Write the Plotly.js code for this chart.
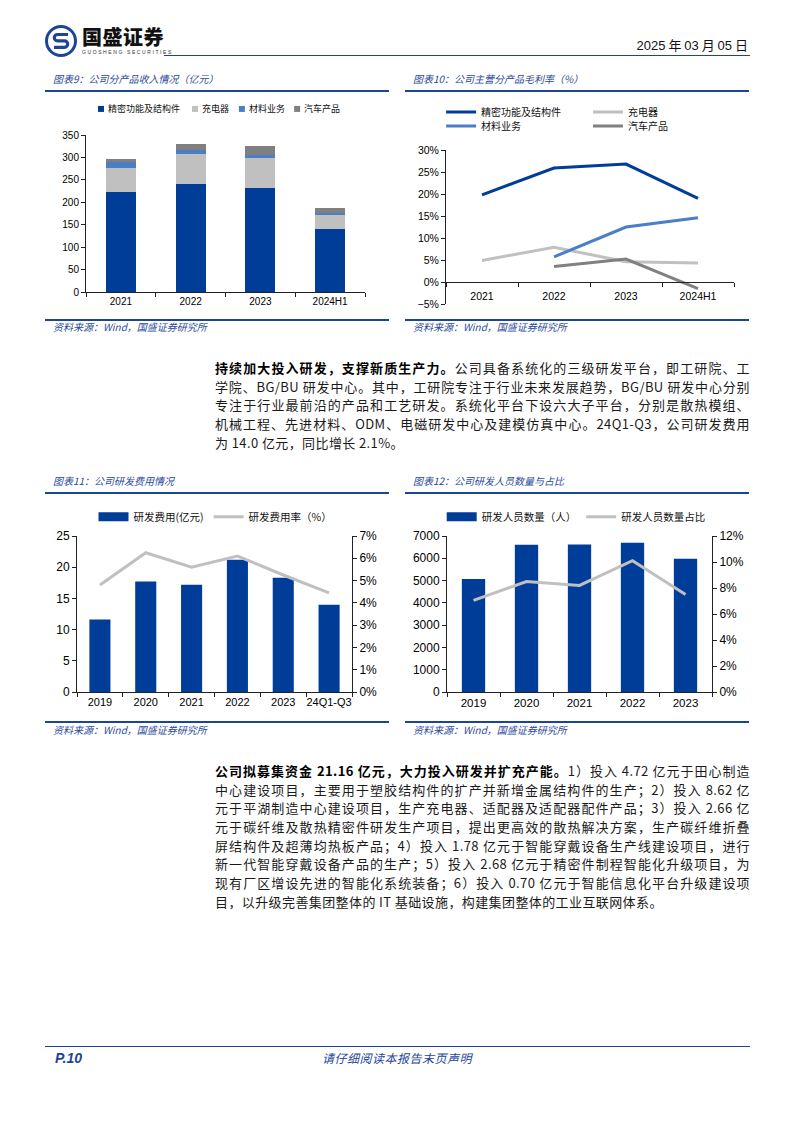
<!DOCTYPE html>
<html>
<head>
<meta charset="utf-8">
<script src="https://cdn.plot.ly/plotly-3.0.1.min.js"></script>
<style>
  html,body{margin:0;padding:0;background:#fff;}
  body{width:794px;height:1123px;position:relative;overflow:hidden;font-family:"Noto Sans CJK SC","Liberation Sans",sans-serif;}
  .abs{position:absolute;}
  .rule{position:absolute;background:#1d4596;}
  .ctitle{position:absolute;font-size:10px;font-style:italic;color:#2a4a99;white-space:nowrap;line-height:12px;}
  .src{position:absolute;font-size:10px;font-style:italic;color:#2a4a99;white-space:nowrap;line-height:12px;}
  .para{position:absolute;left:215px;width:535px;font-size:13px;color:#1a1a1a;}
  .para div{height:18.7px;line-height:18.7px;white-space:nowrap;text-align:justify;text-align-last:justify;letter-spacing:0.4px;}
  .para div.last{text-align-last:left;}
  .para b{font-weight:700;color:#000;}
  .chart{position:absolute;}
</style>
</head>
<body>
<!-- header -->
<svg class="abs" style="left:44px;top:24px;" width="34" height="34" viewBox="0 0 34 34">
  <circle cx="17" cy="17" r="14.5" fill="none" stroke="#1d4596" stroke-width="3"/>
  <path d="M24,10.5 H13.5 a3.2,3.2 0 0 0 0,6.4 H20.5 a3.2,3.2 0 0 1 0,6.4 H10" fill="none" stroke="#1d4596" stroke-width="3.2"/>
</svg>
<div class="abs" style="left:82px;top:25px;font-size:20px;font-weight:900;letter-spacing:0.5px;color:#111;line-height:24px;">国盛证券</div>
<div class="abs" style="left:82px;top:49px;font-size:5px;letter-spacing:1.6px;color:#333;line-height:6px;font-family:'Liberation Sans';">GUOSHENG SECURITIES</div>
<div class="rule" style="left:164px;top:55px;width:586px;height:1px;"></div>
<div class="abs" style="right:46px;top:37px;font-size:13px;color:#111;line-height:16px;white-space:nowrap;"><span style="font-family:'Liberation Sans'">2025</span> 年 <span style="font-family:'Liberation Sans'">03</span> 月 <span style="font-family:'Liberation Sans'">05</span> 日</div>

<!-- chart 9/10 frames -->
<div class="ctitle" style="left:53px;top:73px;">图表9：公司分产品收入情况（亿元）</div>
<div class="ctitle" style="left:413px;top:73px;">图表10：公司主营分产品毛利率（%）</div>
<div class="rule" style="left:45px;top:90px;width:344px;height:2px;"></div>
<div class="rule" style="left:405px;top:90px;width:344px;height:2px;"></div>
<div class="rule" style="left:45px;top:319px;width:344px;height:2px;"></div>
<div class="rule" style="left:405px;top:319px;width:344px;height:2px;"></div>
<div class="src" style="left:53px;top:321px;">资料来源：Wind，国盛证券研究所</div>
<div class="src" style="left:413px;top:321px;">资料来源：Wind，国盛证券研究所</div>

<div id="c9" class="chart" style="left:40px;top:95px;width:350px;height:220px;"></div>
<div id="c10" class="chart" style="left:400px;top:95px;width:350px;height:220px;"></div>

<!-- paragraph 1 -->
<div class="para" style="top:359px;">
  <div><b>持续加大投入研发，支撑新质生产力。</b>公司具备系统化的三级研发平台，即工研院、工</div>
  <div>学院、BG/BU 研发中心。其中，工研院专注于行业未来发展趋势，BG/BU 研发中心分别</div>
  <div>专注于行业最前沿的产品和工艺研发。系统化平台下设六大子平台，分别是散热模组、</div>
  <div>机械工程、先进材料、ODM、电磁研发中心及建模仿真中心。24Q1-Q3，公司研发费用</div>
  <div class="last">为 14.0 亿元，同比增长 2.1%。</div>
</div>

<!-- chart 11/12 frames -->
<div class="ctitle" style="left:53px;top:475px;">图表11：公司研发费用情况</div>
<div class="ctitle" style="left:413px;top:475px;">图表12：公司研发人员数量与占比</div>
<div class="rule" style="left:45px;top:492px;width:344px;height:2px;"></div>
<div class="rule" style="left:405px;top:492px;width:344px;height:2px;"></div>
<div class="rule" style="left:45px;top:721px;width:344px;height:2px;"></div>
<div class="rule" style="left:405px;top:721px;width:344px;height:2px;"></div>
<div class="src" style="left:53px;top:724px;">资料来源：Wind，国盛证券研究所</div>
<div class="src" style="left:413px;top:724px;">资料来源：Wind，国盛证券研究所</div>

<div id="c11" class="chart" style="left:40px;top:498px;width:350px;height:222px;"></div>
<div id="c12" class="chart" style="left:400px;top:498px;width:350px;height:222px;"></div>

<!-- paragraph 2 -->
<div class="para" style="top:762px;">
  <div><b>公司拟募集资金 21.16 亿元，大力投入研发并扩充产能。</b>1）投入 4.72 亿元于田心制造</div>
  <div>中心建设项目，主要用于塑胶结构件的扩产并新增金属结构件的生产；2）投入 8.62 亿</div>
  <div>元于平湖制造中心建设项目，生产充电器、适配器及适配器配件产品；3）投入 2.66 亿</div>
  <div>元于碳纤维及散热精密件研发生产项目，提出更高效的散热解决方案，生产碳纤维折叠</div>
  <div>屏结构件及超薄均热板产品；4）投入 1.78 亿元于智能穿戴设备生产线建设项目，进行</div>
  <div>新一代智能穿戴设备产品的生产；5）投入 2.68 亿元于精密件制程智能化升级项目，为</div>
  <div>现有厂区增设先进的智能化系统装备；6）投入 0.70 亿元于智能信息化平台升级建设项</div>
  <div class="last">目，以升级完善集团整体的 IT 基础设施，构建集团整体的工业互联网体系。</div>
</div>

<!-- footer -->
<div class="rule" style="left:45px;top:1046px;width:705px;height:1px;"></div>
<div class="abs" style="left:55px;top:1050px;font-size:14px;font-weight:700;font-style:italic;color:#1d4596;font-family:'Liberation Sans';line-height:16px;">P.10</div>
<div class="abs" style="left:0;width:794px;text-align:center;top:1051px;font-size:12px;font-style:italic;color:#1d4596;line-height:14px;letter-spacing:0.5px;">请仔细阅读本报告末页声明</div>

<script>
// ---------- data ----------
const years9 = ['2021', '2022', '2023', '2024H1'];
const series9 = ['精密功能及结构件', '充电器', '材料业务', '汽车产品'];
const precision9 = [222, 241, 232, 141];
const charger9 = [55, 66, 67, 31];
const material9 = [13, 9, 7, 4];
const auto9 = [7, 15, 19, 12];

const years10 = ['2021', '2022', '2023', '2024H1'];
const marginPrecision = [19.8, 25.9, 26.8, 19.0];
const marginCharger = [4.9, 7.9, 4.6, 4.3];
const marginMaterial = [null, 5.7, 12.5, 14.6];
const marginAuto = [null, 3.5, 5.2, -1.5];

const years11 = ['2019', '2020', '2021', '2022', '2023', '24Q1-Q3'];
const rdExpense = [11.6, 17.7, 17.2, 21.2, 18.3, 14.0];
const rdRate = [4.8, 6.25, 5.6, 6.1, 5.25, 4.45];

const years12 = ['2019', '2020', '2021', '2022', '2023'];
const rdStaff = [5070, 6610, 6620, 6700, 5980];
const rdStaffShare = [7.05, 8.5, 8.2, 10.1, 7.5];

// ---------- styles ----------
const BLUE = '#003d99', GREY = '#c0c0c0', LBLUE = '#4a7fc8', DGREY = '#808080';
const colors9 = [BLUE, GREY, LBLUE, DGREY];
const tickFont = (s) => ({family: 'Liberation Sans, Arial, sans-serif', size: s, color: '#000'});
const cjkFont = (s) => ({family: 'Noto Sans CJK SC, sans-serif', size: s, color: '#111'});
const cfg = {displayModeBar: false, staticPlot: true};
const axisBase = {showgrid: false, zeroline: false, showline: true, linecolor: '#222', linewidth: 1, ticks: 'outside', ticklen: 4, tickcolor: '#222', fixedrange: true};
const leg = (x, y, size, extra) => Object.assign({x: x, xanchor: 'left', y: y, yanchor: 'middle', font: cjkFont(size), bgcolor: 'rgba(0,0,0,0)', itemwidth: 30}, extra || {});

// ---------- chart 9 ----------
// compact key (squares + labels) placed above the plot, as in the reference
const key9x = [0.043, 0.38, 0.548, 0.746];   // paper-x of each key square (left edge)
const key9y = 1.166;
const key9Shapes = series9.map((s, i) => ({
  type: 'rect', xref: 'paper', yref: 'paper',
  x0: key9x[i], x1: key9x[i] + 6 / 279, y0: key9y - 3 / 157, y1: key9y + 3 / 157,
  fillcolor: colors9[i], line: {width: 0}
}));
const key9Ann = series9.map((s, i) => ({
  xref: 'paper', yref: 'paper', x: key9x[i] + 8 / 279, y: key9y, xanchor: 'left', yanchor: 'middle',
  text: s, showarrow: false, font: cjkFont(9)
}));
const vals9 = [precision9, charger9, material9, auto9];
Plotly.newPlot('c9', series9.map((s, i) => ({
  type: 'bar', name: s, x: years9, y: vals9[i], marker: {color: colors9[i]}
})), {
  barmode: 'stack', bargap: 0.57,
  width: 350, height: 220,
  margin: {l: 46, r: 25, t: 40, b: 23, autoexpand: false},
  paper_bgcolor: 'rgba(0,0,0,0)', plot_bgcolor: 'rgba(0,0,0,0)',
  showlegend: false,
  shapes: key9Shapes,
  annotations: key9Ann,
  xaxis: Object.assign({}, axisBase, {type: 'category', tickson: 'boundaries', tickfont: tickFont(10)}),
  yaxis: Object.assign({}, axisBase, {range: [0, 350], dtick: 50, tickfont: tickFont(10)})
}, cfg);

// ---------- chart 10 ----------
Plotly.newPlot('c10', [
  {type: 'scatter', mode: 'lines', name: '精密功能及结构件', x: years10, y: marginPrecision, line: {color: BLUE, width: 3}, legend: 'legend'},
  {type: 'scatter', mode: 'lines', name: '充电器', x: years10, y: marginCharger, line: {color: GREY, width: 3}, legend: 'legend2'},
  {type: 'scatter', mode: 'lines', name: '材料业务', x: years10, y: marginMaterial, line: {color: LBLUE, width: 3}, legend: 'legend3'},
  {type: 'scatter', mode: 'lines', name: '汽车产品', x: years10, y: marginAuto, line: {color: DGREY, width: 3}, legend: 'legend4'}
], {
  width: 350, height: 220,
  margin: {l: 46, r: 16, t: 55, b: 11, autoexpand: false},
  paper_bgcolor: 'rgba(0,0,0,0)', plot_bgcolor: 'rgba(0,0,0,0)',
  showlegend: true,
  legend: leg(-0.017, 1.247, 10),
  legend2: leg(0.493, 1.247, 10),
  legend3: leg(-0.017, 1.156, 10),
  legend4: leg(0.493, 1.156, 10),
  xaxis: Object.assign({}, axisBase, {type: 'category', range: [-0.5, 3.5], anchor: 'free', position: 5 / 35, tickson: 'boundaries', ticklabelstandoff: 4, tickfont: tickFont(10.5)}),
  yaxis: Object.assign({}, axisBase, {range: [-5, 30], dtick: 5, ticksuffix: '%', tickfont: tickFont(10.5)})
}, cfg);

// ---------- chart 11 ----------
Plotly.newPlot('c11', [
  {type: 'bar', name: '研发费用(亿元)', x: years11, y: rdExpense, marker: {color: BLUE}, showlegend: false},
  {type: 'scatter', mode: 'lines', name: '研发费用(亿元)', x: [null], y: [null], line: {color: BLUE, width: 9}, showlegend: true},
  {type: 'scatter', mode: 'lines', name: '研发费用率（%）', x: years11, y: rdRate, yaxis: 'y2', line: {color: GREY, width: 3}}
], {
  bargap: 0.54,
  width: 350, height: 222,
  margin: {l: 37, r: 38, t: 38, b: 28, autoexpand: false},
  paper_bgcolor: 'rgba(0,0,0,0)', plot_bgcolor: 'rgba(0,0,0,0)',
  showlegend: true,
  legend: leg(0.06, 1.123, 10.5, {orientation: 'h'}),
  xaxis: Object.assign({}, axisBase, {type: 'category', tickson: 'boundaries', tickangle: 0, tickfont: tickFont(11)}),
  yaxis: Object.assign({}, axisBase, {range: [0, 25], dtick: 5, tickfont: tickFont(12)}),
  yaxis2: Object.assign({}, axisBase, {overlaying: 'y', side: 'right', range: [0, 7], dtick: 1, ticksuffix: '%', tickfont: tickFont(12)})
}, cfg);

// ---------- chart 12 ----------
Plotly.newPlot('c12', [
  {type: 'bar', name: '研发人员数量（人）', x: years12, y: rdStaff, marker: {color: BLUE}, showlegend: false},
  {type: 'scatter', mode: 'lines', name: '研发人员数量（人）', x: [null], y: [null], line: {color: BLUE, width: 9}, showlegend: true},
  {type: 'scatter', mode: 'lines', name: '研发人员数量占比', x: years12, y: rdStaffShare, yaxis: 'y2', line: {color: GREY, width: 3}}
], {
  bargap: 0.56,
  width: 350, height: 222,
  margin: {l: 47, r: 38, t: 38, b: 28, autoexpand: false},
  paper_bgcolor: 'rgba(0,0,0,0)', plot_bgcolor: 'rgba(0,0,0,0)',
  showlegend: true,
  legend: leg(-0.02, 1.123, 10.5, {orientation: 'h'}),
  xaxis: Object.assign({}, axisBase, {type: 'category', tickson: 'boundaries', tickangle: 0, tickfont: tickFont(11.5)}),
  yaxis: Object.assign({}, axisBase, {range: [0, 7000], dtick: 1000, tickfont: tickFont(12)}),
  yaxis2: Object.assign({}, axisBase, {overlaying: 'y', side: 'right', range: [0, 12], dtick: 2, ticksuffix: '%', tickfont: tickFont(12)})
}, cfg);
</script>
</body>
</html>
